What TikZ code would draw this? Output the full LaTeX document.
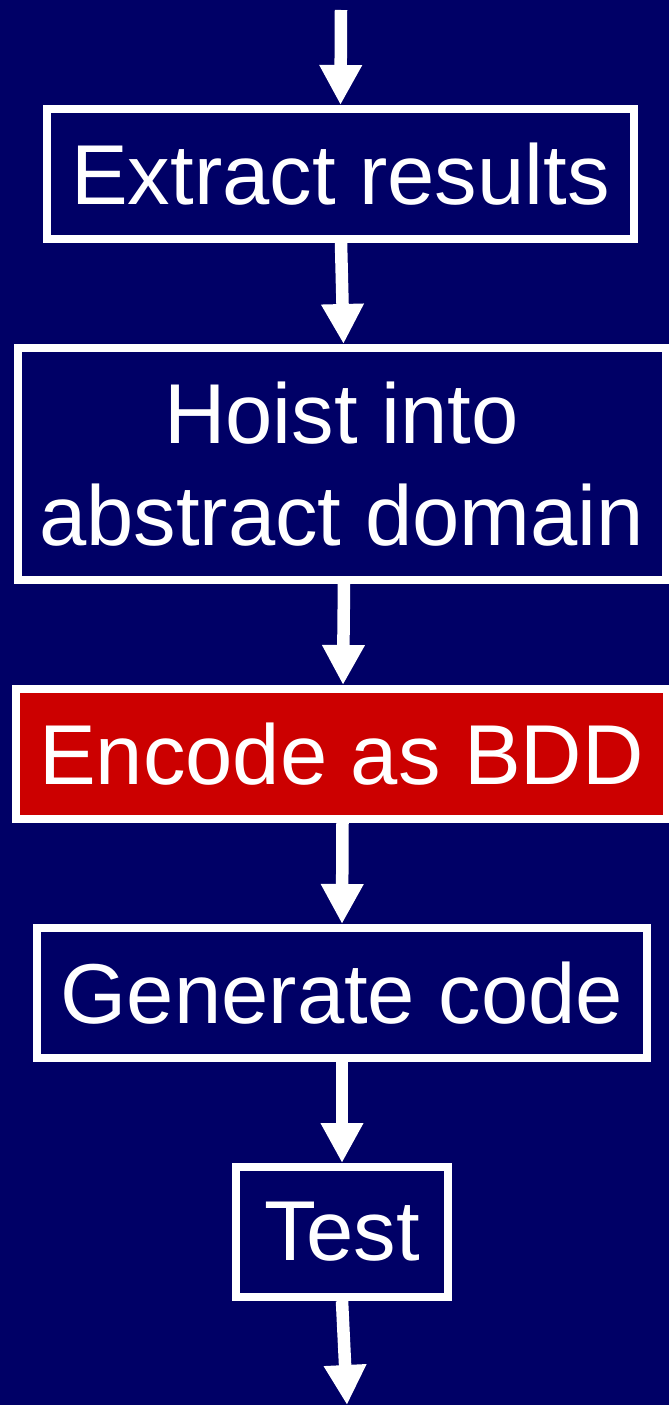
\documentclass[tikz,border=0pt]{standalone}
\usepackage{fontspec}
\setmainfont{Liberation Sans}
\usetikzlibrary{arrows.meta}
\definecolor{slidebg}{RGB}{0,0,102}
\definecolor{hilite}{RGB}{204,0,0}
\tikzset{
  stage/.style={draw=white, line width=8pt, rectangle, inner sep=0pt,
    text=white, align=center, font=\fontsize{85}{102}\selectfont},
  flow/.style={draw=white, line width=12.5pt,
    -{Triangle[width=40pt,length=40pt]}, shorten >=0pt}
}
\begin{document}
\begin{tikzpicture}[x=1pt,y=-1pt]
  % slide background, also fixes the page size
  \fill[slidebg] (0,0) rectangle (669,1405);
  \useasboundingbox (0,0) rectangle (669,1405);

  % the five stages of the pipeline
  \node[stage, fill=slidebg, minimum width=587pt, minimum height=130pt]
    (extract) at (340.5,174) {Extract results};
  \node[stage, fill=slidebg, minimum width=648pt, minimum height=231.5pt]
    (hoist) at (341.5,463.75) {Hoist into\\abstract domain};
  \node[stage, fill=hilite, minimum width=651pt, minimum height=130pt]
    (encode) at (341.5,754) {Encode as BDD};
  \node[stage, fill=slidebg, minimum width=610pt, minimum height=129.5pt]
    (generate) at (342,992.75) {Generate code};
  \node[stage, fill=slidebg, minimum width=212pt, minimum height=130pt]
    (test) at (342,1232) {Test};

  % loose ends of the flow
  \coordinate (in) at (341,10);
  \coordinate (out) at (347,1405);

  % connectors
  \draw[flow] (in) -- (extract.north);
  \draw[flow] ([xshift=0.5pt]extract.south) -- ([xshift=2pt]hoist.north);
  \draw[flow] ([xshift=2.5pt]hoist.south) -- ([xshift=1.5pt]encode.north);
  \draw[flow] ([xshift=1pt]encode.south) -- (generate.north);
  \draw[flow] (generate.south) -- (test.north);
  \draw[flow] (test.south) -- (out);
\end{tikzpicture}
\end{document}
